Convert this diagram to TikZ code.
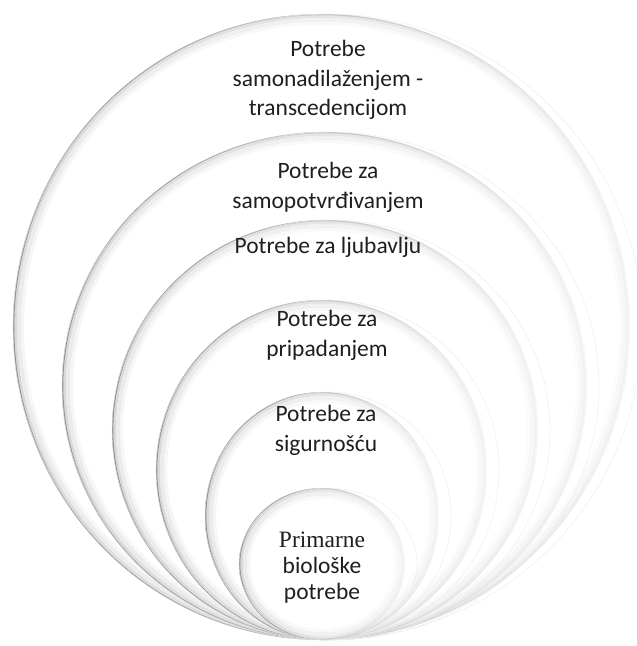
\documentclass[tikz,border=0pt]{standalone}
\usepackage{fontspec}
\setmainfont{Carlito}
\newfontfamily\serifface{Liberation Serif}

% One glossy ring: white disc, soft inner bevel, crisp rim, faint outer reflection
\newcommand\nestring[4]{%
  \fill[white] (#1,#2) ellipse[x radius=#3, y radius=#4];
  \shade[left color=gray!30, right color=gray!10, even odd rule]
    (#1,#2) ellipse[x radius=#3, y radius=#4]
    (#1,#2) ellipse[x radius=#3-4, y radius=#4-4];
  \shade[left color=gray!16, right color=gray!6, even odd rule]
    (#1,#2) ellipse[x radius=#3-4, y radius=#4-4]
    (#1,#2) ellipse[x radius=#3-8, y radius=#4-8];
  \shade[left color=gray!7, right color=gray!2, even odd rule]
    (#1,#2) ellipse[x radius=#3-8, y radius=#4-8]
    (#1,#2) ellipse[x radius=#3-11, y radius=#4-11];
  \shade[left color=gray!85, right color=gray!6, even odd rule]
    (#1,#2) ellipse[x radius=#3, y radius=#4]
    (#1,#2) ellipse[x radius=#3-1.3, y radius=#4-1.3];
  \draw[gray!16, line width=0.3] (#1+6,#2) ellipse[x radius=#3+6, y radius=#4];
}

\tikzset{
  lbl/.style={align=center, text=black!88, inner sep=0pt,
    font=\fontsize{17.6pt}{22.3pt}\selectfont},
  corelbl/.style={lbl, font=\fontsize{17.6pt}{19.5pt}\selectfont}
}

\begin{document}
\begin{tikzpicture}[x=0.75pt,y=-0.75pt]
\useasboundingbox (0,0) rectangle (636,646);
\fill[white] (0,0) rectangle (636,646);

% nested rings, outermost first
\nestring{321.5}{327}{308.5}{313}
\nestring{324.5}{386}{262.5}{254}
\nestring{325}{430}{213}{210}
\nestring{321.5}{470}{165.5}{170}
\nestring{322}{516}{117}{124}
\nestring{322}{564}{83}{76}

% labels
\node[lbl] (transcend) at (328,80) {Potrebe\\samonadilaženjem -\\transcedencijom};
\node[lbl] (selfact) at (328,187) {Potrebe za\\samopotvrđivanjem};
\node[lbl] (love) at (328,247) {Potrebe za ljubavlju};
\node[lbl] (belong) at (327,335) {Potrebe za\\pripadanjem};
\node[lbl] (safety) at (326,430) {Potrebe za\\sigurnošću};
\node[corelbl] (bio) at (322,568) {{\serifface Primarne}\\biološke\\potrebe};
\end{tikzpicture}
\end{document}
